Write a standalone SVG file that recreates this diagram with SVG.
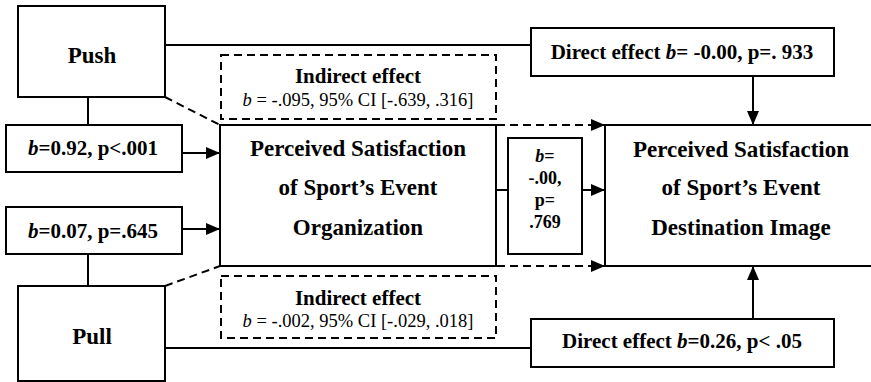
<svg xmlns="http://www.w3.org/2000/svg" width="871" height="382" viewBox="0 0 871 382">
  <style>
    .box { fill: #fff; stroke: #000; stroke-width: 2; }
    .dbox { fill: #fff; stroke: #000; stroke-width: 2; stroke-dasharray: 8 5; }
    .ln { fill: none; stroke: #000; stroke-width: 2; }
    .dl { fill: none; stroke: #000; stroke-width: 2; stroke-dasharray: 8 5; }
    text { font-family: "Liberation Serif", "Times New Roman", serif; fill: #000; text-anchor: middle; }
    .big { font-size: 23px; font-weight: bold; }
    .node { font-size: 23px; font-weight: bold; }
    .lbl { font-size: 21px; font-weight: bold; }
    .sm { font-size: 18.5px; }
    .mid { font-size: 18px; font-weight: bold; }
    .i { font-style: italic; }
  </style>
  <defs>
    <marker id="arrow" markerWidth="14" markerHeight="12" refX="14" refY="6" orient="auto" markerUnits="userSpaceOnUse">
      <path d="M0,0 L14,6 L0,12 Z" fill="#000"/>
    </marker>
  </defs>

  <g id="connectors">
    <!-- solid links -->
    <line class="ln" x1="165" y1="45" x2="531" y2="45"/>
    <line class="ln" x1="88" y1="97" x2="88" y2="125"/>
    <line class="ln" x1="182" y1="153" x2="220" y2="153" marker-end="url(#arrow)"/>
    <line class="ln" x1="182" y1="229" x2="220" y2="229" marker-end="url(#arrow)"/>
    <line class="ln" x1="88" y1="254" x2="88" y2="286"/>
    <line class="ln" x1="165" y1="348" x2="531" y2="348"/>
    <line class="ln" x1="753" y1="76" x2="753" y2="125" marker-end="url(#arrow)"/>
    <line class="ln" x1="753" y1="319" x2="753" y2="266" marker-end="url(#arrow)"/>
    <line class="ln" x1="496" y1="190" x2="508" y2="190"/>
    <line class="ln" x1="582" y1="190" x2="605" y2="190" marker-end="url(#arrow)"/>
    <!-- dashed links -->
    <line class="dl" x1="165" y1="97" x2="220" y2="125"/>
    <line class="dl" x1="165" y1="286" x2="220" y2="266"/>
    <line class="dl" x1="497" y1="125" x2="605" y2="125" marker-end="url(#arrow)"/>
    <line class="dl" x1="497" y1="266" x2="605" y2="266" marker-end="url(#arrow)"/>
  </g>

  <g id="push">
    <rect class="box" x="18" y="6" width="147" height="91"/>
    <text class="node" x="92" y="63">Push</text>
  </g>

  <g id="pull">
    <rect class="box" x="18" y="286" width="147" height="95"/>
    <text class="node" x="92" y="344">Pull</text>
  </g>

  <g id="push-path">
    <rect class="box" x="6" y="125" width="176" height="47"/>
    <text class="lbl" x="93" y="155"><tspan class="i">b</tspan>=0.92, p&lt;.001</text>
  </g>

  <g id="pull-path">
    <rect class="box" x="6" y="207" width="176" height="47"/>
    <text class="lbl" x="93" y="238"><tspan class="i">b</tspan>=0.07, p=.645</text>
  </g>

  <g id="indirect-push">
    <rect class="dbox" x="221" y="55" width="275" height="64"/>
    <text class="lbl" x="358" y="83">Indirect effect</text>
    <text class="sm" x="358" y="106"><tspan class="i">b</tspan> = -.095, 95% CI [-.639, .316]</text>
  </g>

  <g id="indirect-pull">
    <rect class="dbox" x="221" y="276" width="275" height="62"/>
    <text class="lbl" x="358" y="305">Indirect effect</text>
    <text class="sm" x="358" y="327"><tspan class="i">b</tspan> = -.002, 95% CI [-.029, .018]</text>
  </g>

  <g id="organization">
    <rect class="box" x="220" y="125" width="276" height="141"/>
    <text class="big" x="358" y="156">Perceived Satisfaction</text>
    <text class="big" x="358" y="195">of Sport’s Event</text>
    <text class="big" x="358" y="235">Organization</text>
  </g>

  <g id="org-path">
    <rect class="box" x="508" y="138" width="74" height="116"/>
    <text class="mid" x="545" y="162"><tspan class="i">b</tspan>=</text>
    <text class="mid" x="545" y="184">-.00,</text>
    <text class="mid" x="545" y="206">p=</text>
    <text class="mid" x="545" y="228">.769</text>
  </g>

  <g id="destination">
    <rect class="box" x="605" y="125" width="280" height="141"/>
    <text class="big" x="741" y="157">Perceived Satisfaction</text>
    <text class="big" x="741" y="195">of Sport’s Event</text>
    <text class="big" x="741" y="235">Destination Image</text>
  </g>

  <g id="direct-push">
    <rect class="box" x="531" y="28" width="303" height="48"/>
    <text class="lbl" x="682" y="59">Direct effect <tspan class="i">b</tspan>= -0.00, p=. 933</text>
  </g>

  <g id="direct-pull">
    <rect class="box" x="531" y="319" width="303" height="48"/>
    <text class="lbl" x="682" y="348">Direct effect <tspan class="i">b</tspan>=0.26, p&lt; .05</text>
  </g>
</svg>
